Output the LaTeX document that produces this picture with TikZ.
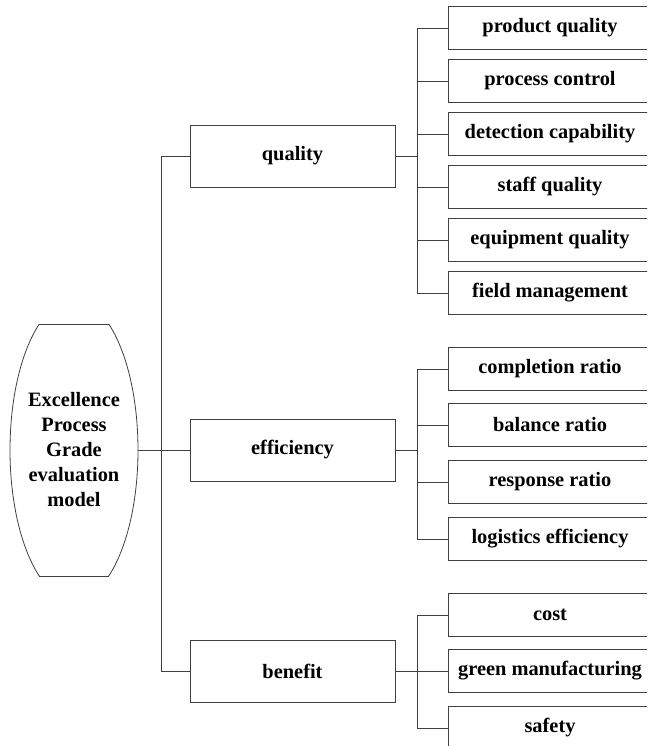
\documentclass[tikz,border=0pt]{standalone}
\usepackage{fontspec}
\setmainfont{Liberation Serif}
\begin{document}
\begin{tikzpicture}[x=0.75pt,y=-0.75pt,
  link/.style={black!75,line width=0.6pt},
  box/.style={draw=black!75,line width=0.6pt,inner sep=0pt,minimum width=153.75pt,minimum height=46.5pt,font=\bfseries\fontsize{15.3}{18}\selectfont},
  leaf/.style={draw=black!75,line width=0.6pt,inner sep=0pt,minimum width=153pt,minimum height=32.25pt,font=\bfseries\fontsize{15.3}{18}\selectfont}]
\useasboundingbox (0,0) rectangle (647,746);
\clip (0,0) rectangle (647,746);
% root
\node[align=center,inner sep=0pt,minimum width=96pt,minimum height=189pt,font=\bfseries\fontsize{15.3}{18.75}\selectfont] (model) at (74,450) {Excellence\\Process\\Grade\\evaluation\\model};
\begin{scope}
\clip (0,324) rectangle (160,576);
\draw[link] (model.center) ellipse [x radius=64,y radius=150];
\end{scope}
\draw[link] (39,324) -- (109,324);
\draw[link] (39,576) -- (109,576);
% second level
\node[box] (quality) at (292.5,156) {quality};
\node[box] (efficiency) at (292.5,450) {efficiency};
\node[box] (benefit) at (292.5,671) {benefit};
\draw[link] (model.east) -- (efficiency.west);
\draw[link] (quality.west) -- ++(-28,0) |- (benefit.west);
% third level
\foreach \name/\y/\txt in {q1/28/product quality,q2/81/process control,q3/134/detection capability,q4/187/staff quality,q5/240/equipment quality,q6/293/field management,e1/369/completion ratio,e2/425/balance ratio,e3/482/response ratio,e4/539/logistics efficiency,b1/615/cost,b2/671/green manufacturing,b3/728/safety}
  \node[leaf] (\name) at (550,\y) {\txt};
\draw[link] (quality.east) -- ++(23,0);
\draw[link] (efficiency.east) -- ++(23,0);
\draw[link] (benefit.east) -- ++(23,0);
\draw[link] (q1.west) -- ++(-30,0) |- (q6.west);
\draw[link] (e1.west) -- ++(-30,0) |- (e4.west);
\draw[link] (b1.west) -- ++(-30,0) |- (b3.west);
\foreach \n in {q2,q3,q4,q5,e2,e3,b2}
  \draw[link] (\n.west) -- ++(-30,0);
\end{tikzpicture}
\end{document}
